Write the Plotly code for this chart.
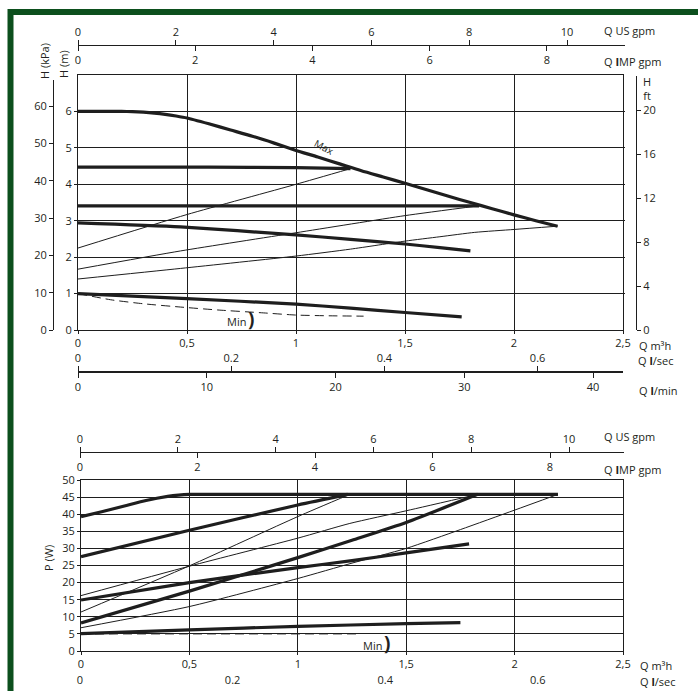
import plotly.graph_objects as go

W, H = 698, 691
def fx(px):
    return px / W
def fy(py):
    return 1 - py / H

# ---------------- DATA ----------------
# Top chart: head H (m) vs flow Q (m3/h)
q_max = [0, 0.1, 0.2, 0.25, 0.3, 0.35, 0.4, 0.45, 0.5, 0.6, 0.7, 0.8, 0.9, 1.0,
         1.1, 1.2, 1.3, 1.4, 1.5, 1.6, 1.7, 1.8, 1.9, 2.0, 2.1, 2.2]
h_max = [6.0, 6.0, 6.0, 5.995, 5.98, 5.955, 5.92, 5.875, 5.82, 5.66, 5.49, 5.32, 5.13, 4.93,
         4.75, 4.56, 4.37, 4.2, 4.03, 3.85, 3.67, 3.5, 3.33, 3.16, 3.0, 2.85]

q_cp3 = [0, 0.6, 1.0, 1.25]
h_cp3 = [4.47, 4.47, 4.46, 4.43]
q_pp3 = [0, 0.5, 1.0, 1.25]
h_pp3 = [2.25, 3.17, 4.0, 4.43]

q_cp2 = [0, 1.84]
h_cp2 = [3.41, 3.41]
q_pp2 = [0, 0.47, 1.0, 1.5, 1.84]
h_pp2 = [1.67, 2.17, 2.67, 3.14, 3.41]

q_s3 = [0, 0.47, 1.0, 1.25, 1.5, 1.66, 1.8]
h_s3 = [2.94, 2.83, 2.61, 2.49, 2.36, 2.26, 2.17]
q_pp1 = [0, 0.47, 1.0, 1.25, 1.5, 1.66, 1.82, 2.0, 2.2]
h_pp1 = [1.4, 1.69, 2.03, 2.22, 2.44, 2.56, 2.68, 2.76, 2.85]

q_s1 = [0, 0.5, 1.0, 1.25, 1.5, 1.76]
h_s1 = [1.0, 0.86, 0.71, 0.6, 0.48, 0.36]
q_min = [0, 0.15, 0.3, 0.47, 0.64, 0.85, 1.0, 1.15, 1.31]
h_min = [1.0, 0.83, 0.72, 0.63, 0.55, 0.47, 0.41, 0.39, 0.38]

# Bottom chart: power P (W) vs flow Q (m3/h)
q_pmax = [0, 0.1, 0.2, 0.3, 0.4, 0.45, 0.5, 0.6, 2.2]
p_pmax = [39.3, 40.8, 42.4, 44.0, 45.2, 45.6, 45.8, 45.8, 45.8]
q_pc3 = [0, 0.5, 1.0, 1.23]
p_pc3 = [27.6, 35.3, 42.7, 45.8]
q_pp3w = [0, 0.5, 1.0, 1.24]
p_pp3w = [11.4, 24.9, 39.3, 45.8]
q_pp2w = [0, 0.5, 1.0, 1.24, 1.5, 1.83]
p_pp2w = [16.2, 24.8, 33.0, 37.3, 41.0, 45.8]
q_ps3 = [0, 0.5, 1.0, 1.25, 1.5, 1.79]
p_ps3 = [14.9, 20.0, 24.4, 26.4, 28.7, 31.3]
q_pc2 = [0, 0.5, 1.0, 1.25, 1.5, 1.83]
p_pc2 = [8.2, 17.5, 27.3, 32.4, 37.6, 45.8]
q_pp1w = [0, 0.5, 1.0, 1.25, 1.5, 1.75, 2.0, 2.2]
p_pp1w = [6.8, 13.0, 21.2, 25.7, 30.0, 35.5, 41.2, 45.8]
q_ps1 = [0, 0.5, 1.0, 1.5, 1.75]
p_ps1 = [5.1, 6.2, 7.2, 8.0, 8.3]
q_pmin = [0, 1.27]
p_pmin = [5.0, 5.0]

# Tick labels
q_ticks = [0, 0.5, 1, 1.5, 2, 2.5]
q_ticktext = ["0", "0,5", "1", "1,5", "2", "2,5"]
h_ticks = [0, 1, 2, 3, 4, 5, 6]
kpa_ticks = [0, 10, 20, 30, 40, 50, 60]
ft_ticks = [0, 4, 8, 12, 16, 20]
usgpm_ticks = [0, 2, 4, 6, 8, 10]
impgpm_ticks = [0, 2, 4, 6, 8]
lsec_ticks = [0, 0.2, 0.4, 0.6]
lsec_text = ["0", "0.2", "0.4", "0.6"]
lmin_ticks = [0, 10, 20, 30, 40]
p_ticks = [0, 5, 10, 15, 20, 25, 30, 35, 40, 45, 50]

# ---------------- FIGURE ----------------
INK = '#1e1e1e'
TXT = '#231f20'
FONT = 'Open Sans'
fig = go.Figure()

thick = dict(color=INK, width=3.2, shape='spline', smoothing=0.6)
thin = dict(color=INK, width=1, shape='spline', smoothing=0.6)
dashed = dict(color=INK, width=1, dash='9px,5px', shape='spline', smoothing=0.6)

def add(q, v, line, xa='x', ya='y'):
    fig.add_trace(go.Scatter(x=q, y=v, mode='lines', line=line, xaxis=xa, yaxis=ya,
                             hoverinfo='skip', showlegend=False))

def dummy(xa, ya):
    fig.add_trace(go.Scatter(x=[None], y=[None], mode='lines', xaxis=xa, yaxis=ya,
                             hoverinfo='skip', showlegend=False))

# top chart
add(q_pp3, h_pp3, thin)
add(q_pp2, h_pp2, thin)
add(q_pp1, h_pp1, thin)
add(q_min, h_min, dashed)
add(q_cp3, h_cp3, thick)
add(q_cp2, h_cp2, thick)
add(q_s3, h_s3, thick)
add(q_s1, h_s1, thick)
add(q_max, h_max, thick)

# bottom chart
add(q_pp3w, p_pp3w, thin, 'x6', 'y4')
add(q_pp2w, p_pp2w, thin, 'x6', 'y4')
add(q_pp1w, p_pp1w, thin, 'x6', 'y4')
add(q_pmin, p_pmin, dashed, 'x6', 'y4')
add(q_pc3, p_pc3, thick, 'x6', 'y4')
add(q_ps3, p_ps3, thick, 'x6', 'y4')
add(q_pc2, p_pc2, thick, 'x6', 'y4')
add(q_ps1, p_ps1, thick, 'x6', 'y4')
add(q_pmax, p_pmax, thick, 'x6', 'y4')

# dummy traces to activate the secondary scales
dummy('x', 'y2'); dummy('x', 'y3')
dummy('x2', 'y'); dummy('x3', 'y'); dummy('x4', 'y'); dummy('x5', 'y')
dummy('x7', 'y4'); dummy('x8', 'y4'); dummy('x9', 'y4')

tf = dict(family=FONT, size=11, color=TXT)
base = dict(tickfont=tf, zeroline=False, showgrid=False, fixedrange=True,
            linecolor=INK, linewidth=1, tickcolor=INK, tickwidth=1)

def ax(**kw):
    d = dict(base)
    d.update(kw)
    return d

layout = dict(
    width=W, height=H, margin=dict(l=0, r=0, t=0, b=0, autoexpand=False),
    paper_bgcolor='white', plot_bgcolor='rgba(0,0,0,0)', showlegend=False,
    font=dict(family=FONT, size=11, color=TXT),
    # ---- top chart
    xaxis=ax(domain=[fx(78), fx(623)], range=[0, 2.5], anchor='y',
             tickvals=q_ticks, ticktext=q_ticktext, ticks='outside', ticklen=3,
             showline=True, mirror=True, showgrid=True, gridcolor=INK, gridwidth=1),
    yaxis=ax(domain=[fy(330), fy(75)], range=[0, 7], anchor='x',
             tickvals=h_ticks, ticks='outside', ticklen=3,
             showline=True, mirror=True, showgrid=True, gridcolor=INK, gridwidth=1),
    yaxis2=ax(domain=[fy(330), fy(80)], range=[0, (330 - 80) / 3.73], anchor='free',
              position=fx(53), side='left', tickvals=kpa_ticks, ticks='outside', ticklen=4,
              showline=True),
    yaxis3=ax(domain=[fy(330), fy(76)], range=[0, (330 - 76) / 11.0], anchor='free',
              position=fx(636), side='right', tickvals=ft_ticks, ticks='outside', ticklen=4,
              showline=True),
    xaxis2=ax(domain=[fx(78), fx(625)], range=[0, 547 / 48.9], anchor='free',
              position=fy(45), side='top', tickvals=usgpm_ticks, ticks='outside', ticklen=5,
              showline=True),
    xaxis3=ax(domain=[fx(78), fx(625)], range=[0, 547 / 58.6], anchor='free',
              position=fy(45), side='bottom', tickvals=impgpm_ticks, ticks='outside', ticklen=5,
              showline=True),
    xaxis4=ax(domain=[fx(78), fx(623)], range=[0, 545 / 766.0], anchor='free',
              position=fy(372), side='top', tickvals=lsec_ticks, ticktext=lsec_text,
              ticks='outside', ticklen=5, showline=True, linewidth=1.5),
    xaxis5=ax(domain=[fx(78), fx(623)], range=[0, 545 / 12.875], anchor='free',
              position=fy(372), side='bottom', tickvals=lmin_ticks, ticks='outside', ticklen=5,
              showline=True, linewidth=1.5),
    # ---- bottom chart
    xaxis6=ax(domain=[fx(81), fx(623)], range=[0, 2.5], anchor='y4',
              tickvals=q_ticks, ticktext=q_ticktext, ticks='outside', ticklen=3,
              showline=True, mirror=True, showgrid=True, gridcolor=INK, gridwidth=1),
    yaxis4=ax(domain=[fy(651), fy(480)], range=[0, 50], anchor='x6',
              tickvals=p_ticks, ticks='outside', ticklen=3,
              showline=True, mirror=True, showgrid=True, gridcolor=INK, gridwidth=1),
    xaxis7=ax(domain=[fx(80), fx(624)], range=[0, 544 / 48.9], anchor='free',
              position=fy(452), side='top', tickvals=usgpm_ticks, ticks='outside', ticklen=5,
              showline=True),
    xaxis8=ax(domain=[fx(80), fx(624)], range=[0, 544 / 58.75], anchor='free',
              position=fy(452), side='bottom', tickvals=impgpm_ticks, ticks='outside', ticklen=5,
              showline=True),
    xaxis9=ax(domain=[fx(80), fx(623)], range=[0, 543 / 763.0], anchor='free',
              position=fy(672), side='bottom', tickvals=lsec_ticks, ticktext=lsec_text,
              ticks='', showline=False),
)
fig.update_layout(**layout)

# green frame
fig.add_shape(type='rect', xref='paper', yref='paper', x0=fx(10.5), y0=fy(12),
              x1=fx(780), y1=fy(780), line=dict(color='#0c4f1d', width=6),
              fillcolor='rgba(0,0,0,0)')

def note(text, px, py, xanchor='center', size=11, angle=0, **kw):
    fig.add_annotation(text=text, x=fx(px), y=fy(py), xref='paper', yref='paper',
                       xanchor=xanchor, yanchor='middle', showarrow=False,
                       textangle=angle, font=dict(family=FONT, size=size, color=TXT), **kw)

# top chart labels
note('Q US gpm', 602, 30, 'left')
note('Q <b>I</b>MP gpm', 602, 62, 'left')
note('H (kPa)', 44, 61, angle=-90)
note('H (m)', 64, 64, angle=-90)
note('H<br>ft', 647, 88)
note('Max', 324, 147, size=10, angle=28)
note('Min', 236, 321)
note('<b>)</b>', 251, 319, size=19)
note('Q m³h', 637, 345, 'left')
note('Q <b>l</b>/sec', 636, 360, 'left')
note('Q <b>l</b>/min', 637, 390, 'left')
# bottom chart labels
note('Q US gpm', 602, 437, 'left')
note('Q <b>I</b>MP gpm', 602, 469, 'left')
note('P (W)', 48, 558, angle=-90)
note('Min', 372, 645)
note('<b>)</b>', 387, 643, size=19)
note('Q m³h', 638, 665, 'left')
note('Q <b>l</b>/sec', 638, 681, 'left')

fig.write_html('out.html')
